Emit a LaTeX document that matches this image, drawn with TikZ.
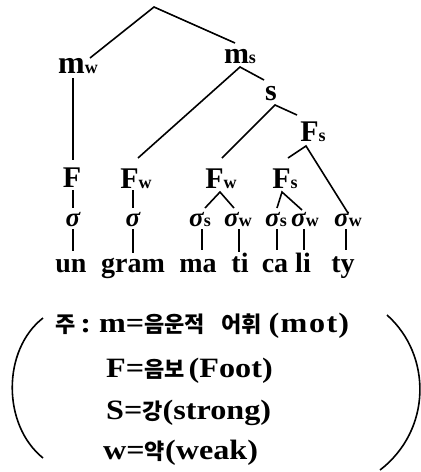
\documentclass[tikz,border=0pt]{standalone}
\usepackage{fontspec}
\setmainfont{Liberation Serif}
\newfontfamily\notefont{Liberation Serif}[FakeStretch=1.15]
\newfontfamily\krfont{Noto Sans CJK KR}
\newcommand\subw[1]{{\fontsize{18}{18}\selectfont\upshape\bfseries #1}}
\newcommand\kr[1]{{\krfont\bfseries\fontsize{22}{22}\selectfont #1}}
\tikzset{
  lab/.style={inner sep=0pt, anchor=base, font=\bfseries\fontsize{30}{30}\selectfont},
  syl/.style={inner sep=0pt, anchor=base, font=\bfseries\itshape\fontsize{27}{27}\selectfont},
  word/.style={inner sep=0pt, anchor=base, font=\bfseries\fontsize{28}{28}\selectfont},
  note/.style={inner sep=0pt, anchor=base west, font=\notefont\bfseries\fontsize{28}{28}\selectfont},
  link/.style={line width=1.6pt},
  paren/.style={line width=1.6pt},
}
\begin{document}
\begin{tikzpicture}[x=1pt,y=-1pt]
\useasboundingbox (0,0) rectangle (421,472);
% tree nodes
\coordinate (root) at (154,7);
\node[lab, font=\bfseries\fontsize{32}{32}\selectfont] (mw) at (78,73) {m\subw{w}};
\node[lab] (ms) at (240,63) {m\subw{s}};
\node[lab] (S) at (271,100) {s};
\node[lab] (fs) at (313,141) {F\subw{s}};
\node[lab] (f1) at (72,187) {F};
\node[lab] (fw1) at (136,188) {F\subw{w}};
\node[lab] (fw2) at (221,188) {F\subw{w}};
\node[lab] (fs2) at (285,188) {F\subw{s}};
\node[syl] (s1) at (73,226) {σ};
\node[syl] (s2) at (133,226) {σ};
\node[syl] (s3) at (200,226) {σ\subw{s}};
\node[syl] (s4) at (238,226) {σ\subw{w}};
\node[syl] (s5) at (276,226) {σ\subw{s}};
\node[syl] (s6) at (305,226) {σ\subw{w}};
\node[syl] (s7) at (348,226) {σ\subw{w}};
\node[word] (w1) at (71,272) {un};
\node[word] (w2) at (133,272) {gram};
\node[word] (w3) at (198,272) {ma};
\node[word] (w4) at (240,272) {ti};
\node[word] (w5) at (275,272) {ca};
\node[word] (w6) at (303,272) {li};
\node[word] (w7) at (343,272) {ty};
% connectors
\draw[link] ([shift={(12,-15)}]mw.base) -- (root) -- ([shift={(-5,-20)}]ms.base);
\draw[link] ([shift={(-5,5)}]mw.base) -- ([shift={(1,-27)}]f1.base);
\draw[link] ([shift={(2,-30)}]fw1.base) -- ([shift={(0,4)}]ms.base) -- ([shift={(-7,-20)}]S.base);
\draw[link] ([shift={(1,-30)}]fw2.base) -- ([shift={(4,5)}]S.base) -- ([shift={(-16,-26)}]fs.base);
\draw[link] ([shift={(3,-30)}]fs2.base) -- ([shift={(-7,5)}]fs.base) -- ([shift={(0,-13)}]s7.base);
\draw[link] ([shift={(1,3)}]f1.base) -- ([shift={(0,-18)}]s1.base);
\draw[link] ([shift={(0,3)}]s1.base) -- ([shift={(2,-21)}]w1.base);
\draw[link] ([shift={(-3,2)}]fw1.base) -- ([shift={(0,-18)}]s2.base);
\draw[link] ([shift={(0,3)}]s2.base) -- ([shift={(0,-19)}]w2.base);
\draw[link] ([shift={(5,-18)}]s3.base) -- ([shift={(-1,4)}]fw2.base) -- ([shift={(-4,-18)}]s4.base);
\draw[link] ([shift={(1,-18)}]s5.base) -- ([shift={(-3,4)}]fs2.base) -- ([shift={(-3,-16)}]s6.base);
\draw[link] ([shift={(2,3)}]s3.base) -- ([shift={(4,-22)}]w3.base);
\draw[link] ([shift={(1,3)}]s4.base) -- ([shift={(-1,-20)}]w4.base);
\draw[link] ([shift={(1,3)}]s5.base) -- ([shift={(2,-22)}]w5.base);
\draw[link] ([shift={(-1,3)}]s6.base) -- ([shift={(1,-22)}]w6.base);
\draw[link] ([shift={(-2,3)}]s7.base) -- ([shift={(3,-22)}]w7.base);
% legend
\node[note] (n1) at (55,332) {\kr{주}\hspace{5pt}:\hspace{8pt}m=\kr{음운적}\hspace{16pt}\kr{어휘}\hspace{7pt}(\kern1.5pt m\kern1.5pt o\kern1.5pt t\kern1pt)};
\node[note] (n2) at (106,377) {F=\kr{음보}\hspace{4pt}(Foot)};
\node[note] (n3) at (106,419) {S=\kr{강}(strong)};
\node[note] (n4) at (103,459) {w=\kr{약}(weak)};
\draw[paren] (43,318) .. controls (2,350) and (2,425) .. (43,458);
\draw[paren] (387,315) .. controls (432,355) and (432,430) .. (380,470);
\end{tikzpicture}
\end{document}
